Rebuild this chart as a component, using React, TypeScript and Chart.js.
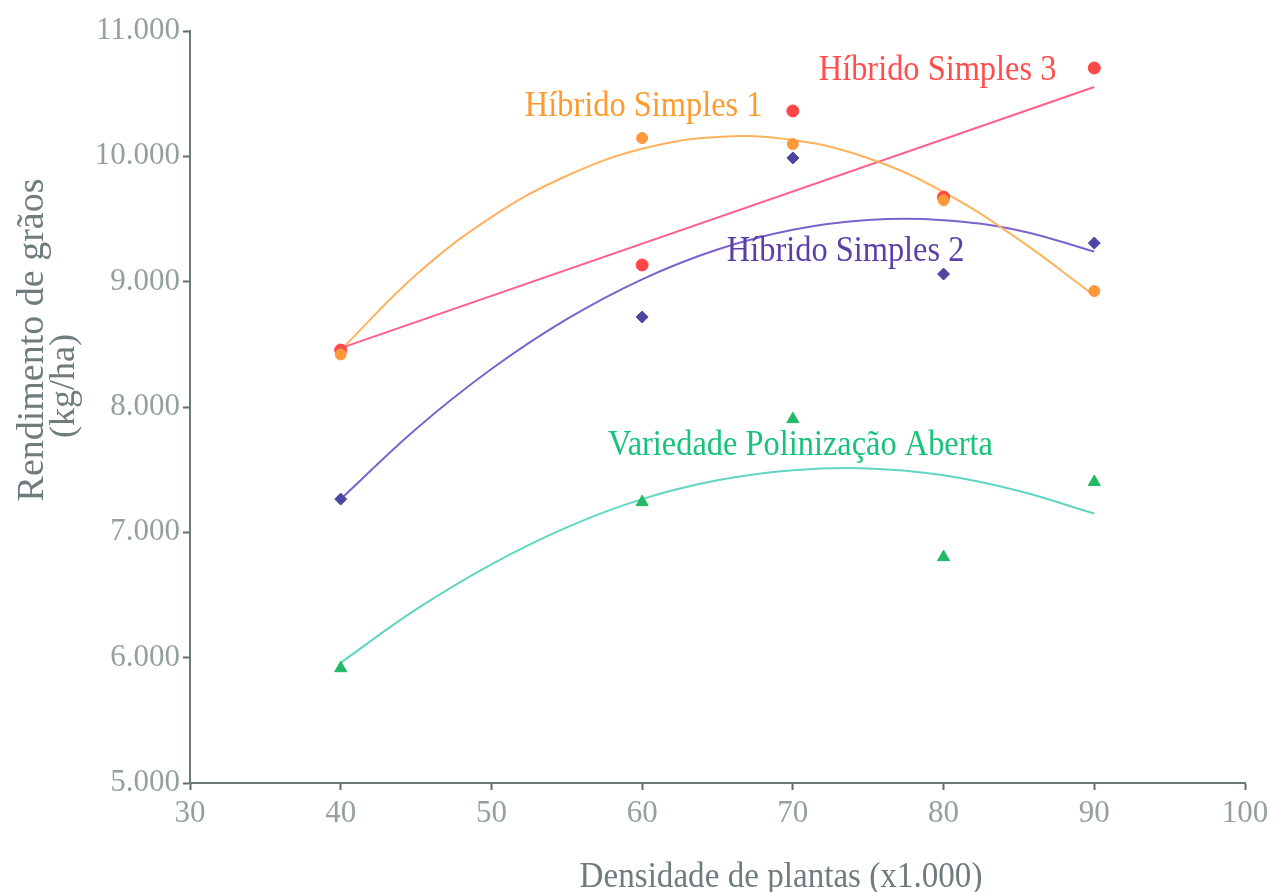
import { useEffect, useRef } from 'react';
import { Chart, registerables } from 'chart.js';

Chart.register(...registerables);

// ---- data ----
const densities = [40, 60, 70, 80, 90];
const hs1Values = [8420, 10146, 10098, 9650, 8925];
const hs2Values = [7265, 8718, 9987, 9061, 9308];
const hs3Values = [8454, 9133, 10362, 9675, 10705];
const vpaValues = [5916, 7241, 7903, 6802, 7401];

const trendX = [40, 45, 50, 55, 60, 65, 70, 75, 80, 85, 90];
const hs1Trend = [8454, 9055, 9515, 9845, 10060, 10155, 10130, 9985, 9715, 9335, 8890];
const hs2Trend = [7265, 7825, 8303, 8701, 9019, 9257, 9415, 9493, 9491, 9409, 9240];
const vpaTrend = [5960, 6385, 6745, 7040, 7265, 7415, 7495, 7510, 7455, 7330, 7150];
const hs3TrendX = [40, 90];
const hs3Trend = [8470, 10553];

const seriesNames = ['Híbrido Simples 1', 'Híbrido Simples 2', 'Híbrido Simples 3', 'Variedade Polinização Aberta'];
const xTitle = 'Densidade de plantas (x1.000)';
const yTitleLines = ['Rendimento de grãos', '(kg/ha)'];

const toPts = (xs: number[], ys: number[]) => xs.map((x, i) => ({ x, y: ys[i] }));
const fmtThousands = (v: number) => String(v).replace(/\B(?=(\d{3})+(?!\d))/g, '.');

const SERIF = '"Liberation Serif", "Times New Roman", serif';

// label anchors (data coordinates) and colours
const labelSpecs = [
  { text: seriesNames[0], x: 60.1, y: 10322, color: '#ff9a2e' },
  { text: seriesNames[1], x: 73.5, y: 9164, color: '#5b3fa8' },
  { text: seriesNames[2], x: 79.6, y: 10609, color: '#ff4d4d' },
  { text: seriesNames[3], x: 70.5, y: 7616, color: '#19c27a' },
];

const annotate = {
  id: 'annotate',
  afterDraw(chart: any) {
    const { ctx, scales } = chart;
    const xs = scales.x;
    const ys = scales.y;
    ctx.save();
    ctx.textAlign = 'center';
    ctx.textBaseline = 'alphabetic';
    for (const l of labelSpecs) {
      ctx.save();
      ctx.translate(xs.getPixelForValue(l.x), ys.getPixelForValue(l.y));
      ctx.scale(0.9, 1);
      ctx.font = `36px ${SERIF}`;
      ctx.fillStyle = l.color;
      ctx.fillText(l.text, 0, 0);
      ctx.restore();
    }
    // x title
    ctx.save();
    ctx.translate(781, 887);
    ctx.scale(0.92, 1);
    ctx.font = `36px ${SERIF}`;
    ctx.fillStyle = '#6f7c7e';
    ctx.fillText(xTitle, 0, 0);
    ctx.restore();
    // y title (two rotated lines)
    ctx.save();
    ctx.translate(33, 340);
    ctx.rotate(-Math.PI / 2);
    ctx.scale(1.0, 1);
    ctx.font = `38px ${SERIF}`;
    ctx.fillStyle = '#6f7c7e';
    ctx.textBaseline = 'middle';
    ctx.fillText(yTitleLines[0], 0, 0);
    ctx.restore();
    ctx.save();
    ctx.translate(65, 386);
    ctx.rotate(-Math.PI / 2);
    ctx.font = `36px ${SERIF}`;
    ctx.fillStyle = '#6f7c7e';
    ctx.textBaseline = 'middle';
    ctx.fillText(yTitleLines[1], 0, 0);
    ctx.restore();
    ctx.restore();
  },
};

export default function App() {
  const ref = useRef<HTMLCanvasElement | null>(null);

  useEffect(() => {
    if (!ref.current) return;
    const trendStyle = (color: string) => ({
      showLine: true,
      pointRadius: 0,
      borderWidth: 2,
      borderColor: color,
      backgroundColor: color,
      tension: 0.4,
      fill: false,
      order: 2,
    });
    const pointStyle = (color: string, style: string, r: number) => ({
      showLine: false,
      pointStyle: style,
      pointRadius: r,
      pointBackgroundColor: color,
      pointBorderColor: color,
      borderColor: color,
      backgroundColor: color,
      order: 1,
    });

    const chart = new Chart(ref.current, {
      type: 'scatter',
      data: {
        datasets: [
          { label: seriesNames[0] + ' tendência', data: toPts(trendX, hs1Trend), ...trendStyle('#ffb25e') },
          { label: seriesNames[1] + ' tendência', data: toPts(trendX, hs2Trend), ...trendStyle('#7c62cc') },
          { label: seriesNames[2] + ' tendência', data: toPts(hs3TrendX, hs3Trend), ...trendStyle('#ff6088'), tension: 0 },
          { label: seriesNames[3] + ' tendência', data: toPts(trendX, vpaTrend), ...trendStyle('#5fd6c4') },
          { label: seriesNames[0], data: toPts(densities, hs1Values), ...pointStyle('#ff9838', 'circle', 5.5) },
          { label: seriesNames[1], data: toPts(densities, hs2Values), ...pointStyle('#4c46a2', 'rectRot', 6) },
          { label: seriesNames[2], data: toPts(densities, hs3Values), ...pointStyle('#ff4646', 'circle', 6) },
          { label: seriesNames[3], data: toPts(densities, vpaValues), ...pointStyle('#22b966', 'triangle', 7) },
        ] as any,
      },
      options: {
        responsive: false,
        animation: false,
        devicePixelRatio: 1,
        layout: { padding: { top: 31, right: 32, left: 0, bottom: 0 } },
        plugins: {
          legend: { display: false },
          tooltip: { enabled: false },
          title: { display: false },
        },
        scales: {
          x: {
            type: 'linear',
            min: 30,
            max: 100,
            ticks: {
              stepSize: 10,
              padding: 5,
              color: '#94a0a0',
              font: { family: SERIF, size: 31 },
              maxRotation: 0,
            },
            grid: { drawOnChartArea: false, drawTicks: true, tickLength: 7, tickColor: '#5f6c6c', tickWidth: 2 },
            border: { display: true, color: '#6b7878', width: 2 },
            afterFit: (s: any) => { s.height = 109; },
          },
          y: {
            type: 'linear',
            min: 5000,
            max: 11000,
            ticks: {
              stepSize: 1000,
              padding: 3,
              color: '#94a0a0',
              font: { family: SERIF, size: 31 },
              callback: (v: any) => fmtThousands(Number(v)),
            },
            grid: { drawOnChartArea: false, drawTicks: true, tickLength: 7, tickColor: '#5f6c6c', tickWidth: 2 },
            border: { display: true, color: '#6b7878', width: 2 },
            afterFit: (s: any) => { s.width = 190; },
          },
        },
      } as any,
      plugins: [annotate],
    });
    return () => chart.destroy();
  }, []);

  return (
    <div style={{ position: 'absolute', left: 0, top: 0, width: 1277, height: 892, background: '#ffffff' }}>
      <canvas ref={ref} width={1277} height={892} />
    </div>
  );
}
